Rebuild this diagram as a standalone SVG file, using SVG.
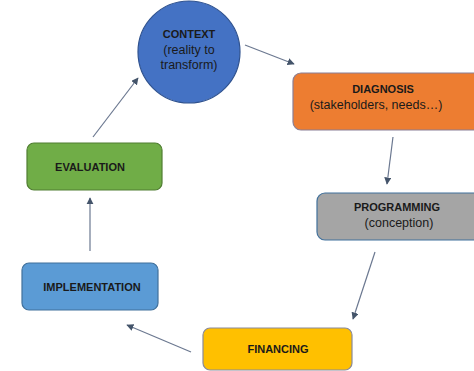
<svg xmlns="http://www.w3.org/2000/svg" width="474" height="371" viewBox="0 0 474 371">
<defs>
<marker id="ah" viewBox="0 0 10 10" refX="9" refY="5" markerWidth="6" markerHeight="6" orient="auto">
<path d="M0,0 L10,5 L0,10 z" fill="#44546A"/>
</marker>
<style>
.t{font-family:"Liberation Sans",Arial,sans-serif;font-size:12.5px;fill:#1a1a1a;text-anchor:middle}
.b{font-weight:bold;font-size:11px}
.c{stroke:#6b7890;stroke-width:1.2;fill:none;marker-end:url(#ah)}
.n{stroke-width:1.2}
</style>
</defs>
<rect width="474" height="371" fill="#ffffff"/>
<g id="connectors">
<line class="c" x1="245" y1="45" x2="294" y2="64"/>
<line class="c" x1="393" y1="137" x2="387" y2="184"/>
<line class="c" x1="375" y1="252" x2="353" y2="319"/>
<line class="c" x1="191" y1="352" x2="127" y2="325"/>
<line class="c" x1="90" y1="251" x2="90" y2="198"/>
<line class="c" x1="93" y1="137" x2="138" y2="78"/>
</g>
<g id="context">
<circle class="n" cx="189" cy="52" r="51" fill="#4472C4" stroke="#2F528F"/>
<text class="t b" x="189" y="38">CONTEXT</text>
<text class="t" x="189" y="54">(reality to</text>
<text class="t" x="189" y="69">transform)</text>
</g>
<g id="diagnosis">
<rect class="n" x="293" y="73" width="190" height="57" rx="8" fill="#ED7D31" stroke="#8a7f95"/>
<text class="t b" x="383" y="93">DIAGNOSIS</text>
<text class="t" x="376" y="109">(stakeholders, needs…)</text>
</g>
<g id="programming">
<rect class="n" x="317" y="193" width="170" height="47" rx="8" fill="#A5A5A5" stroke="#41719C"/>
<text class="t b" x="397" y="211">PROGRAMMING</text>
<text class="t" x="399" y="227">(conception)</text>
</g>
<g id="financing">
<rect class="n" x="203" y="328" width="149" height="42" rx="7" fill="#FFC000" stroke="#8a8a99"/>
<text class="t b" x="278" y="353">FINANCING</text>
</g>
<g id="implementation">
<rect class="n" x="22" y="263" width="136" height="47" rx="7" fill="#5B9BD5" stroke="#41719C"/>
<text class="t b" x="92" y="291">IMPLEMENTATION</text>
</g>
<g id="evaluation">
<rect class="n" x="27" y="143" width="135" height="47" rx="7" fill="#70AD47" stroke="#507E32"/>
<text class="t b" x="90" y="171">EVALUATION</text>
</g>
</svg>
